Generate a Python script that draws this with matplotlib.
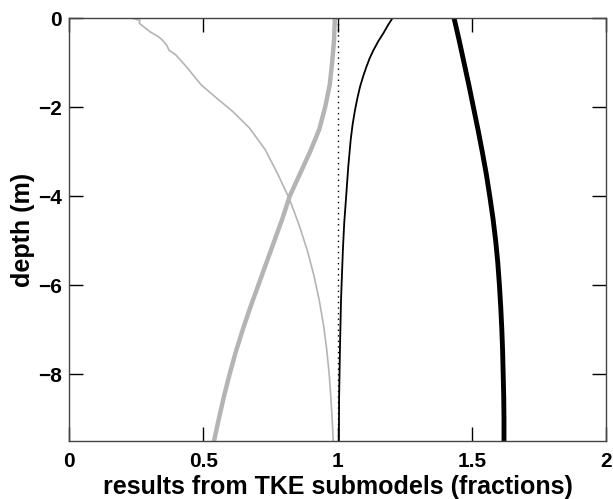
import matplotlib
matplotlib.use("Agg")
import matplotlib.pyplot as plt

# depth (m) and fractions
depth_thin_gray = [0, -0.05, -0.12, -0.31, -0.42, -0.48, -0.61, -0.72, -0.83, -1.1, -1.5,
                   -1.8, -2.1, -2.47, -2.95, -3.5, -4.05, -4.65, -5.21, -5.78, -6.34, -6.9,
                   -7.46, -8.0, -8.5, -9.0, -9.5]
frac_thin_gray = [0.233, 0.264, 0.262, 0.302, 0.333, 0.345, 0.364, 0.372, 0.398, 0.438, 0.492,
                  0.550, 0.610, 0.672, 0.730, 0.777, 0.820, 0.857, 0.887, 0.912, 0.932, 0.948,
                  0.960, 0.969, 0.975, 0.980, 0.984]

depth_thick_gray = [0, -0.5, -1, -1.5, -2, -2.5, -3, -3.5, -4, -4.5, -5, -5.5, -6, -6.5,
                    -7, -7.5, -8, -8.5, -9, -9.5]
frac_thick_gray = [0.99, 0.987, 0.980, 0.971, 0.954, 0.932, 0.898, 0.860, 0.822, 0.795,
                   0.765, 0.735, 0.705, 0.675, 0.647, 0.621, 0.598, 0.577, 0.558, 0.540]

depth_thin_black = [0, -0.17, -0.34, -0.52, -0.72, -0.9, -1.09, -1.3, -1.54, -1.8, -2.07,
                    -2.4, -2.74, -3.34, -4.02, -4.6, -5.21, -6.34, -7.46, -8.5, -9.5]
frac_thin_black = [1.205, 1.187, 1.171, 1.152, 1.134, 1.120, 1.108, 1.096, 1.084, 1.074, 1.065,
                   1.056, 1.049, 1.040, 1.032, 1.025, 1.020, 1.013, 1.009, 1.006, 1.005]

depth_thick_black = [0, -0.5, -1, -1.5, -2, -2.5, -3, -3.5, -4, -4.5, -5, -5.5, -6, -6.5,
                     -7, -7.5, -8, -8.5, -9, -9.5]
frac_thick_black = [1.434, 1.453, 1.471, 1.489, 1.506, 1.523, 1.539, 1.554, 1.567, 1.579,
                    1.589, 1.597, 1.603, 1.608, 1.612, 1.615, 1.617, 1.619, 1.620, 1.620]

x_ticks = [0, 0.5, 1, 1.5, 2]
x_tick_labels = ["0", "0.5", "1", "1.5", "2"]
y_ticks = [0, -2, -4, -6, -8]

plt.rcParams['font.family'] = ['Liberation Sans', 'DejaVu Sans']
plt.rcParams['font.weight'] = 'bold'

fig = plt.figure(figsize=(6.13, 4.99), dpi=100)
ax = fig.add_axes([0.1126, 0.1162, 0.876, 0.8477])

gray = '#b4b4b4'
ax.plot(frac_thin_gray, depth_thin_gray, color=gray, lw=1.2)
ax.plot(frac_thick_gray, depth_thick_gray, color=gray, lw=3.2)
ax.plot([1, 1], [0, -9.5], color='black', lw=1.0, ls=(0, (1, 3)))
ax.plot(frac_thin_black, depth_thin_black, color='black', lw=1.3)
ax.plot(frac_thick_black, depth_thick_black, color='black', lw=3.5)

ax.set_xlim(0, 2)
ax.set_ylim(-9.5, 0)
ax.set_xticks(x_ticks)
ax.set_xticklabels(x_tick_labels)
ax.set_yticks(y_ticks)
ax.tick_params(direction='in', length=10, width=1, top=True, right=True,
               labelsize=15, colors='black')
ax.tick_params(axis='x', pad=8)
ax.tick_params(axis='y', pad=5)
for label in ax.get_xticklabels() + ax.get_yticklabels():
    label.set_fontweight('bold')
for sp in ax.spines.values():
    sp.set_color('#444444')
    sp.set_linewidth(1.0)

ax.set_xlabel("results from TKE submodels (fractions)", fontsize=18, fontweight='bold', labelpad=3)
ax.set_ylabel("depth (m)", fontsize=18, fontweight='bold', labelpad=2)

fig.savefig("out.png", dpi=100)
plt.close(fig)
